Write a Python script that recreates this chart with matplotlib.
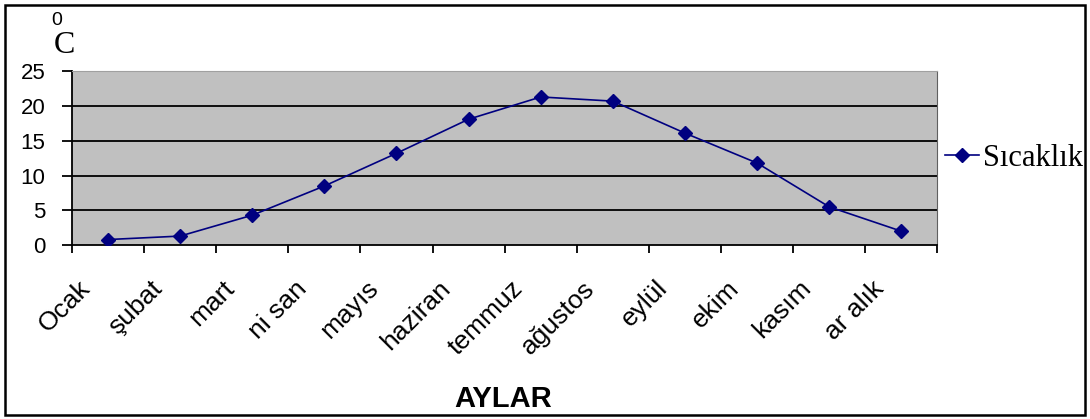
import matplotlib
matplotlib.use("Agg")
from matplotlib import pyplot
from matplotlib.patches import Rectangle
from matplotlib.transforms import ScaledTranslation

months = ["Ocak", "şubat", "mart", "ni san", "mayıs", "haziran", "temmuz",
          "ağustos", "eylül", "ekim", "kasım", "ar alık"]
temps = [0.8, 1.3, 4.3, 8.5, 13.2, 18.1, 21.3, 20.7, 16.1, 11.8, 5.5, 2.0]
yticks = [0, 5, 10, 15, 20, 25]

fig = pyplot.figure(figsize=(10.9, 4.19), dpi=100)
ax = fig.add_axes([0.066, 0.415, 0.794, 0.415])
ax.set_facecolor("#c0c0c0")

x = list(range(len(months)))
ax.plot(x, temps, color="#000080", lw=1.2, marker="D", markersize=7.5,
        label="Sıcaklık", zorder=3)

ax.set_xlim(-0.5, len(months) - 0.5)
ax.set_ylim(0, 25)
ax.set_yticks(yticks)
ax.set_yticklabels([str(v) for v in yticks], fontsize=16, family="Liberation Sans")
for v in yticks[1:-1]:
    ax.axhline(v, color="black", lw=1.3, zorder=1)

# ticks sit between categories, labels at centres (Excel style, nudged left)
ax.set_xticks([i - 0.5 for i in range(len(months) + 1)])
ax.set_xticklabels([])
offset = ScaledTranslation(-30 / 100, -31 / 100, fig.dpi_scale_trans)
for i, m in zip(x, months):
    ax.text(i, 0, m, transform=ax.get_xaxis_transform() + offset,
            rotation=45, ha="right", va="top", rotation_mode="anchor",
            fontsize=19, family="Liberation Sans", clip_on=False)
ax.tick_params(axis="x", which="major", length=6, direction="out", width=1.3)
ax.tick_params(axis="y", length=7, direction="out", width=1.3, pad=12)

ax.spines["left"].set_linewidth(1.3)
ax.spines["bottom"].set_linewidth(1.3)
ax.spines["top"].set_color("#a0a0a0")
ax.spines["right"].set_color("#606060")

fig.text(0.462, 0.029, "AYLAR", fontsize=21, fontweight="bold",
         family="Liberation Sans", ha="center")
fig.text(0.052, 0.940, "0", fontsize=14, family="Liberation Sans", ha="center")
fig.text(0.059, 0.874, "C", fontsize=23, family="Liberation Serif", ha="center")

ax.legend(loc="center left", bbox_to_anchor=(945 / 1090, 1 - 158 / 419),
          bbox_transform=fig.transFigure, frameon=False,
          prop={"family": "Liberation Serif", "size": 22},
          handlelength=1.1, handletextpad=0.15, borderpad=0, borderaxespad=0,
          markerscale=0.9)

fig.add_artist(Rectangle((0.005, 0.01), 0.99, 0.978, transform=fig.transFigure,
                         fill=False, edgecolor="black", lw=1.8))

fig.savefig("out.png", dpi=100)
